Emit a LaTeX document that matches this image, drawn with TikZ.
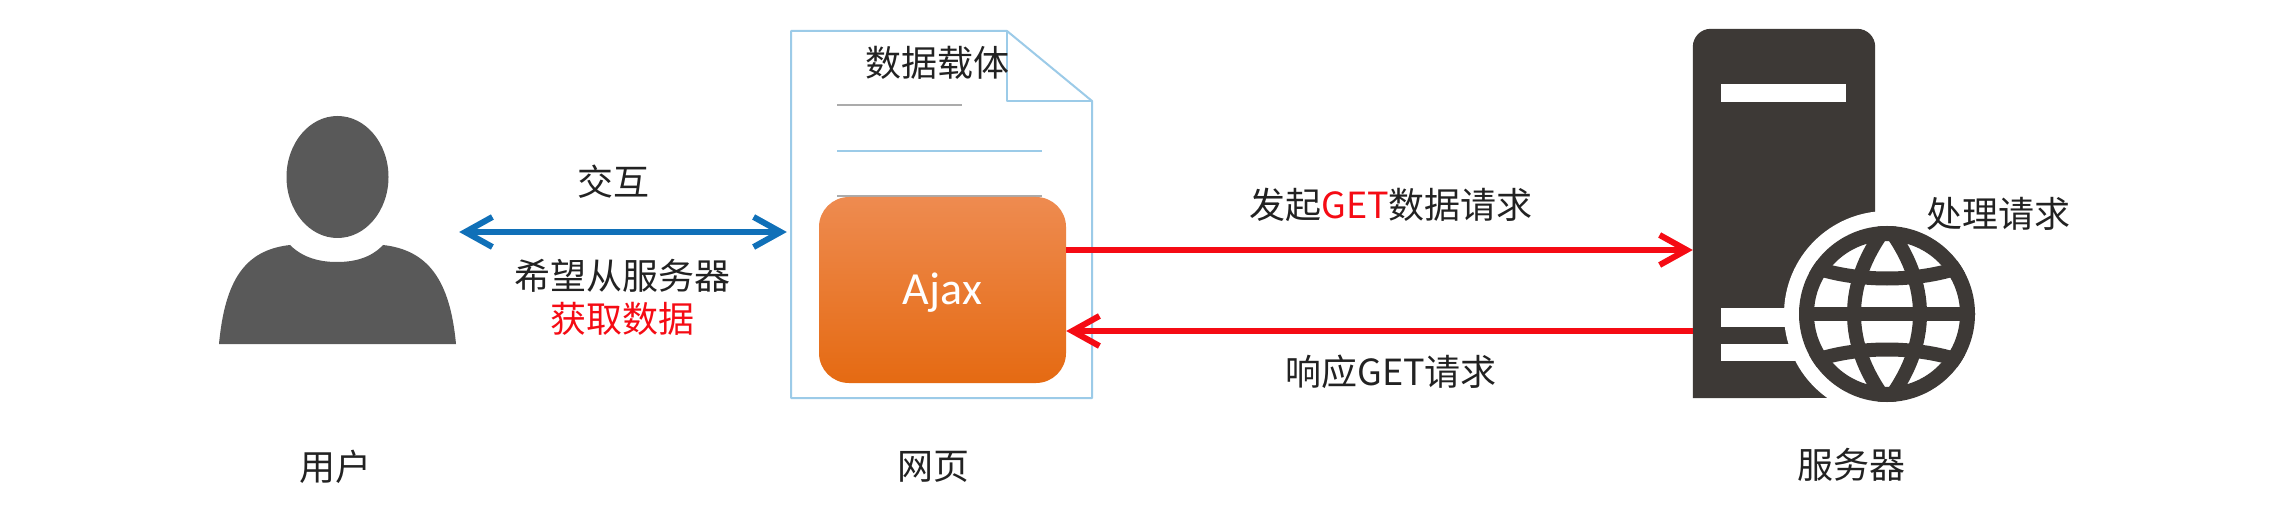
\documentclass[tikz,border=0pt]{standalone}
\usepackage{fontspec}
\setmainfont{Noto Sans CJK SC}
\newfontfamily\ajaxfont{Carlito}
\usepackage{xcolor}
\definecolor{Ink}{HTML}{222222}
\definecolor{Person}{HTML}{595959}
\definecolor{Rack}{HTML}{3D3936}
\definecolor{PageLine}{HTML}{9CCBE8}
\definecolor{RuleGrey}{HTML}{ABABAB}
\definecolor{Link}{HTML}{1070B8}
\definecolor{Alert}{HTML}{F50B14}
\definecolor{OrangeTop}{HTML}{EE8B50}
\definecolor{OrangeMid}{HTML}{F67B1C}
\definecolor{OrangeLow}{HTML}{E56A12}
\usetikzlibrary{arrows.meta,positioning}
\begin{document}
\begin{tikzpicture}[x=1pt,y=-1pt,every node/.style={font=\fontsize{36}{43}\selectfont,text=Ink,align=center,inner sep=0pt},linkline/.style={line width=6pt,draw=#1}]
\useasboundingbox[fill=white] (0,0) rectangle (2269,529);
% boxes the connectors attach to
\node[minimum width=245pt,minimum height=228pt] (user) at (336.5,230) {};
\node[minimum width=301pt,minimum height=367pt] (page) at (941.5,214.5) {};
\node[minimum width=182pt,minimum height=369pt] (server) at (1784,213.5) {};
% person
\fill[Person] (337.5,177) ellipse[x radius=51pt,y radius=61pt];
\fill[Person] (219,344) .. controls (225,280) and (245,250) .. (290,245) .. controls (303,258) and (320,262) .. (337,262) .. controls (354,262) and (371,258) .. (383,245) .. controls (428,250) and (450,280) .. (456,344) -- cycle;
% page
\draw[PageLine,line width=2pt,fill=white,line join=round] (791,31) -- (1007,31) -- (1092,101) -- (1092,398) -- (791,398) -- cycle;
\draw[PageLine,line width=2pt,line join=round] (1007,31) -- (1007,101) -- (1092,101);
\draw[RuleGrey,line width=2pt] (837,105) -- (962,105);
\draw[PageLine,line width=2pt] (837,151) -- (1042,151);
\draw[RuleGrey,line width=2pt] (837,196) -- (1042,196);
\node[minimum width=247pt,minimum height=186pt,rounded corners=30pt,top color=OrangeTop,middle color=OrangeMid,bottom color=OrangeLow,text=white,text height=36pt,font=\ajaxfont\fontsize{46}{50}\selectfont] (ajax) at (942.5,290) {Ajax};
\node (carrier) at (937,63) {数据载体};
% server
\fill[Rack,rounded corners=18pt] (server.south west) -- (server.north west) -- (server.north east) -- (server.south east) [sharp corners] -- cycle;
\fill[white] (1721,84) rectangle (1846,102);
\fill[white] (1721,308) rectangle (1800,327);
\fill[white] (1721,344) rectangle (1800,361);
\fill[white] (1887,314) circle[radius=103pt];
\fill[white] (1875,314) rectangle (1900,420);
\fill[white] (1800,398) rectangle (1900,420);
\begin{scope}
\clip (1887,314) circle[radius=88pt];
\draw[Rack,line width=14pt] (1887,226) .. controls (1843,284) and (1843,344) .. (1887,402);
\draw[Rack,line width=14pt] (1887,226) .. controls (1931,284) and (1931,344) .. (1887,402);
\draw[Rack,line width=14pt] (1795,314) -- (1979,314);
\draw[Rack,line width=14pt] (1800,262) .. controls (1850,284) and (1924,284) .. (1974,262);
\draw[Rack,line width=14pt] (1800,366) .. controls (1850,344) and (1924,344) .. (1974,366);
\end{scope}
\draw[Rack,line width=15pt] (1887,314) circle[radius=80.5pt];
\node (process) at (1998,214) {处理请求};
% labels
\node (userlabel) at (335,467) {用户};
\node (pagelabel) at (933,467) {网页};
\node (serverlabel) at (1851,465) {服务器};
\node (swap) at (613,182) {交互};
\node (wish) at (622,297.5) {希望从服务器\\\textcolor{Alert}{获取数据}};
\node (send) at (1391,205) {发起\textcolor{Alert}{GET}数据请求};
\node (reply) at (1391,372) {响应GET请求};
% connectors
\draw[{Straight Barb[length=27pt,width=30pt]}-{Straight Barb[length=27pt,width=30pt]},linkline=Link] ([yshift=-2pt]user.east) -- ([xshift=-4pt,yshift=-2pt]user.east -| page.west);
\draw[-{Straight Barb[length=27pt,width=30pt]},linkline=Alert] ([yshift=40pt]ajax.east) -- ([yshift=40pt]ajax.east -| server.west);
\draw[{Straight Barb[length=27pt,width=30pt]}-,linkline=Alert] ([yshift=-41pt]ajax.east) -- ([yshift=-41pt]ajax.east -| server.west);
\end{tikzpicture}
\end{document}
